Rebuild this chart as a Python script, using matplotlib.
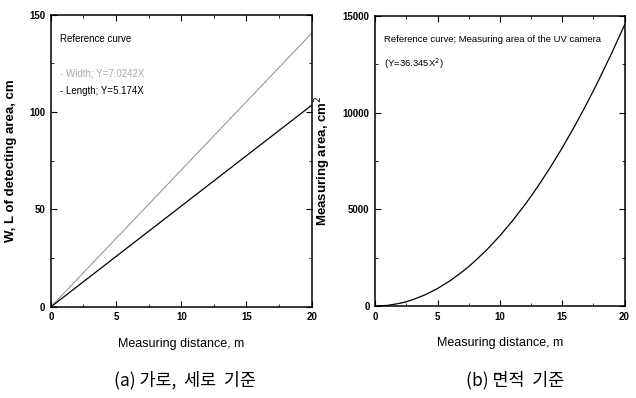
import matplotlib
matplotlib.use("Agg")
import matplotlib.pyplot as plt
from matplotlib.ticker import MultipleLocator

# values
dist_line = [0, 20]
width_cm = [0, 140.5]
length_cm = [0, 103.5]

dist_curve = [0, 1, 2, 2.5, 3, 4, 5, 6, 7, 7.5, 8, 9, 10, 11, 12, 12.5, 13, 14, 15, 16, 17, 17.5, 18, 19, 20]
area_cm2 = [0, 36, 145, 227, 327, 582, 909, 1308, 1781, 2044, 2326, 2944, 3634, 4398, 5234,
            5678, 6142, 7124, 8178, 9304, 10504, 11131, 11776, 13121, 14538]

caption_a = "(a) 가로,  세로  기준"
caption_b = "(b) 면적  기준"

plt.rcParams['font.family'] = ['Liberation Sans', 'DejaVu Sans']
cjk = ['Noto Sans CJK KR', 'DejaVu Sans']

fig = plt.figure(figsize=(6.36, 3.98), dpi=100)
ax1 = fig.add_axes([0.080, 0.229, 0.410, 0.734])
ax2 = fig.add_axes([0.590, 0.231, 0.392, 0.729])

for ax in (ax1, ax2):
    ax.set_xlim(0, 20)
    ax.xaxis.set_major_locator(MultipleLocator(5))
    ax.xaxis.set_minor_locator(MultipleLocator(2.5))
    ax.tick_params(which='both', direction='in', top=True, right=True,
                   labelsize=7, pad=4)
    ax.tick_params(which='major', length=4, width=0.8)
    ax.tick_params(which='minor', length=2, width=0.6)
    for s in ax.spines.values():
        s.set_linewidth(1.1)
    ax.set_xlabel("Measuring distance, m", fontsize=9, labelpad=11)

ax1.plot(dist_line, width_cm, color='#999999', lw=0.8)
ax1.plot(dist_line, length_cm, color='black', lw=0.9)
ax1.set_ylim(0, 150)
ax1.yaxis.set_major_locator(MultipleLocator(50))
ax1.yaxis.set_minor_locator(MultipleLocator(25))
ax1.set_ylabel("W, L of detecting area, cm", fontsize=9.5, fontweight='bold')
ax1.yaxis.set_label_coords(-0.13, 0.5)
ax1.text(0.035, 0.935, "Reference curve", transform=ax1.transAxes, fontsize=7, va='top')
ax1.text(0.035, 0.815, "- Width; Y=7.0242X", transform=ax1.transAxes, fontsize=7,
         va='top', color='#aaaaaa')
ax1.text(0.035, 0.755, "- Length; Y=5.174X", transform=ax1.transAxes, fontsize=7, va='top')

ax2.plot(dist_curve, area_cm2, color='black', lw=0.9)
ax2.set_ylim(0, 15000)
ax2.yaxis.set_major_locator(MultipleLocator(5000))
ax2.yaxis.set_minor_locator(MultipleLocator(2500))
ax2.set_ylabel("Measuring area, cm$^2$", fontsize=9.5, fontweight='bold')
ax2.yaxis.set_label_coords(-0.17, 0.5)
ax2.text(0.035, 0.935, "Reference curve; Measuring area of the UV camera",
         transform=ax2.transAxes, fontsize=6.8, va='top')
ax2.text(0.035, 0.86, "(Y=36.345X$^2$)", transform=ax2.transAxes, fontsize=6.8, va='top')

for ax in (ax1, ax2):
    for lab in ax.get_xticklabels() + ax.get_yticklabels():
        lab.set_fontweight('bold')

fig.text(0.29, 0.045, caption_a, fontsize=12.5, ha='center', va='center',
         family=cjk, fontweight='light')
fig.text(0.81, 0.045, caption_b, fontsize=12.5, ha='center', va='center',
         family=cjk, fontweight='light')

fig.savefig("out.png", dpi=100)
